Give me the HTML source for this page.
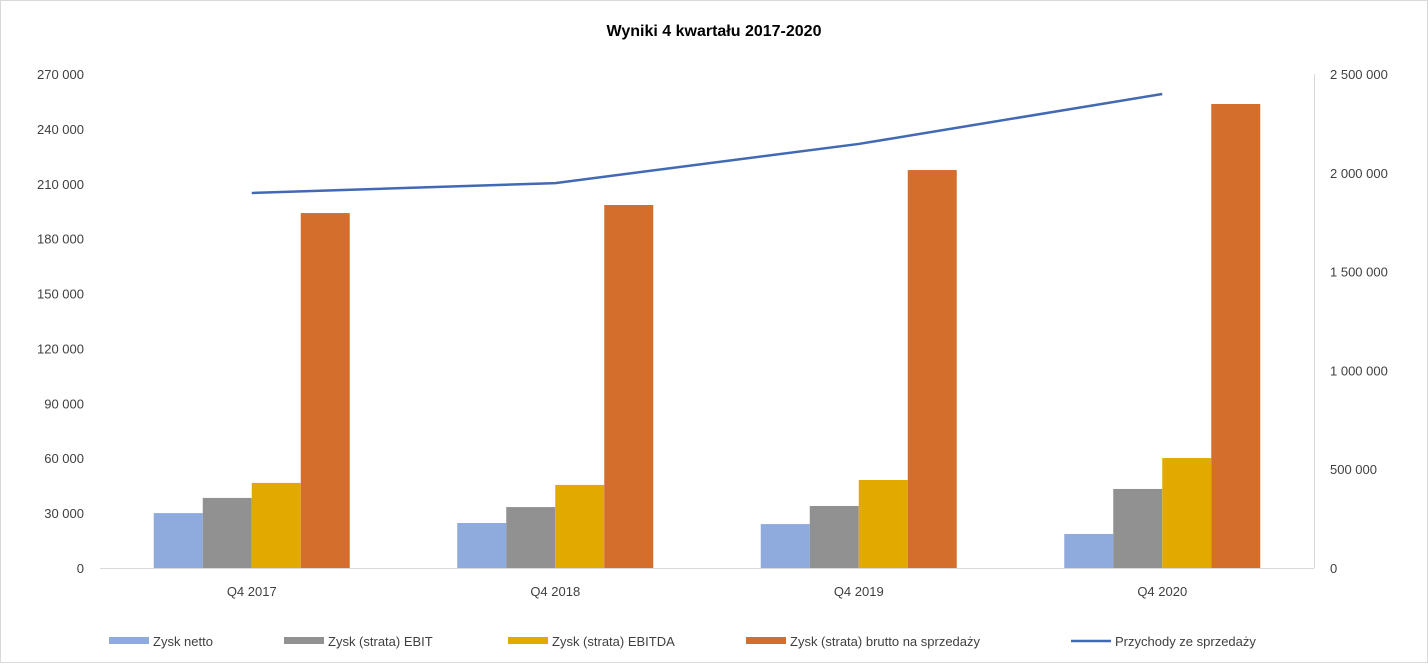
<!DOCTYPE html>
<html><head><meta charset="utf-8"><style>
body{margin:0;background:#fff;}
svg{display:block;font-family:"Liberation Sans",sans-serif;}
</style></head><body>
<svg id="c" width="1428" height="664" viewBox="0 0 1428 664">
<rect x="0.5" y="0.5" width="1427" height="662" fill="#fff" stroke="#d9d9d9"/>
<text x="714" y="36" text-anchor="middle" font-size="16" font-weight="bold" fill="#000">Wyniki 4 kwartału 2017-2020</text>
<g id="plot"></g>
</svg>
<script>
const categories=["Q4 2017","Q4 2018","Q4 2019","Q4 2020"];
const zyskNetto=[30000,24600,24000,18600];
const ebit=[38300,33300,33900,43200];
const ebitda=[46500,45400,48100,60100];
const brutto=[194000,198400,217500,253600];
const przychody=[1898000,1948000,2146000,2399000];
const leftTicks=[0,30000,60000,90000,120000,150000,180000,210000,240000,270000];
const rightTicks=[0,500000,1000000,1500000,2000000,2500000];
const NS="http://www.w3.org/2000/svg";
const g=document.getElementById('plot');
const X0=100,X1=1314,Y0=568,Y1=74;
const yL=v=>Y0-(v/270000)*(Y0-Y1);
const yR=v=>Y0-(v/2500000)*(Y0-Y1);
const cw=(X1-X0)/categories.length;
const xc=i=>X0+cw*(i+0.5);
const fmt=v=>String(v).replace(/\B(?=(\d{3})+(?!\d))/g,' ');
function mk(t,a){const e=document.createElementNS(NS,t);for(const k in a)e.setAttribute(k,a[k]);g.appendChild(e);return e;}
leftTicks.forEach(v=>{const t=mk('text',{x:84,y:yL(v)+5,'text-anchor':'end','font-size':13,fill:'#404040'});t.textContent=fmt(v);

});
rightTicks.forEach(v=>{const t=mk('text',{x:1330,y:yR(v)+5,'text-anchor':'start','font-size':13,fill:'#404040'});t.textContent=fmt(v);

});
const series=[{d:zyskNetto,c:'#8faadc',n:'zysk-netto'},{d:ebit,c:'#919191',n:'ebit'},{d:ebitda,c:'#e2aa00',n:'ebitda'},{d:brutto,c:'#d36e2c',n:'brutto'}];
const bw=49;
categories.forEach((cat,i)=>{
 series.forEach((s,j)=>{const x=xc(i)-2*bw+j*bw;const r=mk('rect',{x:x,y:yL(s.d[i]),width:bw,height:Y0-yL(s.d[i]),fill:s.c});
 
 });
 const t=mk('text',{x:xc(i),y:596,'text-anchor':'middle','font-size':13,fill:'#404040'});t.textContent=cat;
 
 
});
const ax=mk('line',{x1:X0,y1:Y0+0.5,x2:X1,y2:Y0+0.5,stroke:'#d9d9d9','stroke-width':1});


const ra=mk('line',{x1:X1+0.5,y1:Y1,x2:X1+0.5,y2:Y0,stroke:'#d9d9d9','stroke-width':1});


const ln=mk('polyline',{points:przychody.map((v,i)=>xc(i)+','+yR(v)).join(' '),fill:'none',stroke:'#4169b4','stroke-width':2.5});


const legend=[{x:109,c:'#8faadc',t:'Zysk netto',k:'rect'},{x:284,c:'#919191',t:'Zysk (strata) EBIT',k:'rect'},{x:508,c:'#e2aa00',t:'Zysk (strata) EBITDA',k:'rect'},{x:746,c:'#d36e2c',t:'Zysk (strata) brutto na sprzedaży',k:'rect'},{x:1071,c:'#4169b4',t:'Przychody ze sprzedaży',k:'line'}];
legend.forEach(l=>{
 let m;
 if(l.k==='rect') m=mk('rect',{x:l.x,y:637,width:40,height:7,fill:l.c});
 else m=mk('line',{x1:l.x,y1:641,x2:l.x+40,y2:641,stroke:l.c,'stroke-width':2.5});
 
 
 const t=mk('text',{x:l.x+44,y:646,'font-size':13,fill:'#404040'});t.textContent=l.t;
 
 
});
</script>
</body></html>
